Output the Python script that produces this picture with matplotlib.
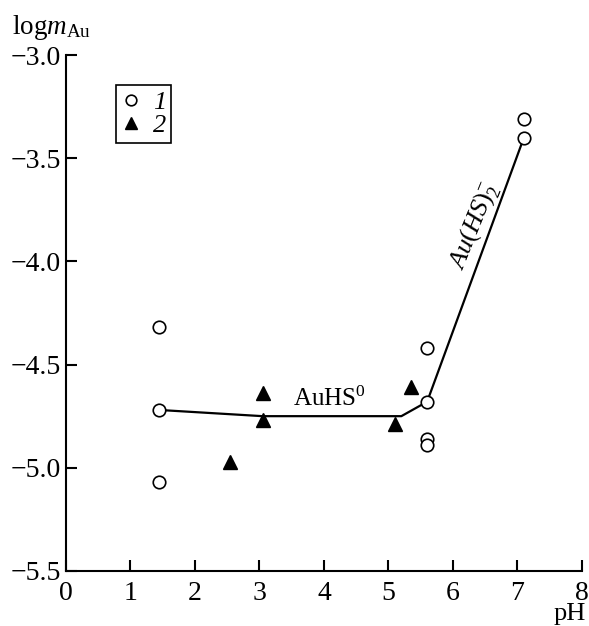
import matplotlib
matplotlib.use("Agg")
from matplotlib import pyplot as plt

plt.rcParams['font.family'] = ['Liberation Serif', 'DejaVu Serif']
plt.rcParams['mathtext.fontset'] = 'custom'
plt.rcParams['mathtext.rm'] = 'Liberation Serif'
plt.rcParams['mathtext.it'] = 'Liberation Serif:italic'

# серия 1 (кружки)
ph_1 = [1.45, 1.45, 1.45, 5.6, 5.6, 5.6, 5.6, 7.1, 7.1]
logm_1 = [-4.32, -4.72, -5.07, -4.42, -4.68, -4.86, -4.89, -3.31, -3.40]

# серия 2 (треугольники)
ph_2 = [2.55, 3.05, 3.05, 5.1, 5.35]
logm_2 = [-4.97, -4.64, -4.77, -4.79, -4.61]

# линия расчета
ph_line = [1.45, 3.05, 5.2, 5.6, 7.1]
logm_line = [-4.72, -4.75, -4.75, -4.68, -3.40]

xticks = [0, 1, 2, 3, 4, 5, 6, 7, 8]
yticks = [-5.5, -5.0, -4.5, -4.0, -3.5, -3.0]

fig = plt.figure(figsize=(5.89, 6.26), dpi=100)
ax = fig.add_axes([0.112, 0.088, 0.876, 0.824])

ax.plot(ph_line, logm_line, color='black', lw=1.6, zorder=1)
ax.plot(ph_1, logm_1, 'o', ls='none', mfc='white', mec='black', mew=1.2,
        ms=9, label='1', zorder=3)
ax.plot(ph_2, logm_2, '^', ls='none', color='black', ms=10, label='2', zorder=3)

ax.set_xlim(0, 8)
ax.set_ylim(-5.5, -3.0)
ax.set_xticks(xticks)
ax.set_yticks(yticks)
ax.set_yticklabels(['\u2212%.1f' % abs(v) for v in yticks])
for s in ['top', 'right']:
    ax.spines[s].set_visible(False)
for s in ['left', 'bottom']:
    ax.spines[s].set_linewidth(1.5)
ax.tick_params(direction='in', length=8, width=1.5, labelsize=20)
ax.tick_params(axis='y', pad=3.5)
ax.tick_params(axis='x', pad=7)

leg = ax.legend(loc='upper left', bbox_to_anchor=(0.097, 0.942), fancybox=False,
                edgecolor='black', framealpha=1, handlelength=0.7, handletextpad=0.5,
                borderpad=0.2, labelspacing=0.0, borderaxespad=0, markerscale=0.85,
                prop={'size': 19, 'style': 'italic'})
leg.get_frame().set_linewidth(1.2)

ax.text(3.52, -4.70, r'AuHS$^0$', fontsize=18, ha='left', va='baseline')
ax.text(6.33, -3.83, r'$\mathit{Au(HS)}_2^{-}$', fontsize=19, rotation=68,
        ha='center', va='center', rotation_mode='anchor')

fig.text(12 / 589, 1 - 34 / 626, r'log$\mathit{m}_{\rm Au}$', fontsize=19.5,
         ha='left', va='baseline')
fig.text(586 / 589, 1 - 620 / 626, 'pH', fontsize=19, ha='right', va='baseline')

plt.savefig('out.png', dpi=100)
